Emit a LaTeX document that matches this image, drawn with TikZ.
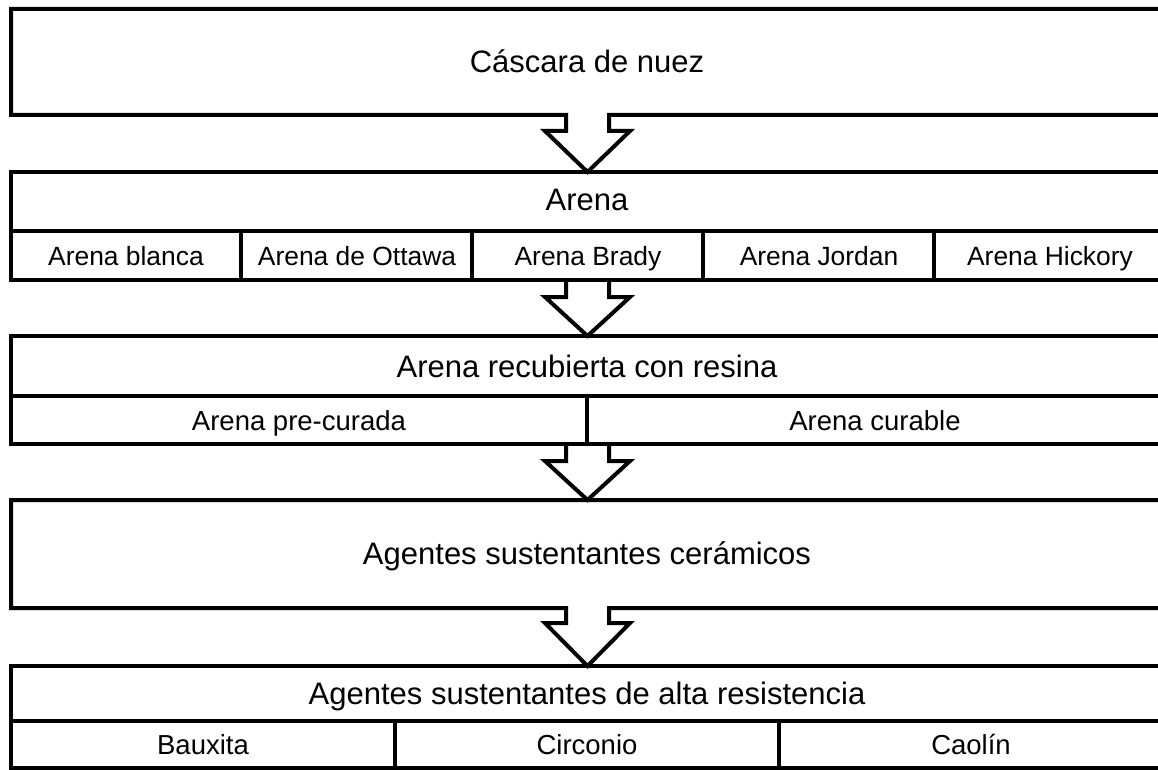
\documentclass[tikz,border=0pt]{standalone}
\usepackage{fontspec}
\setmainfont{Liberation Sans}
\begin{document}
\begin{tikzpicture}[x=1pt,y=-1pt,
  outline/.style={draw=black,line width=4pt,line join=miter},
  big/.style={font=\fontsize{31}{37}\selectfont,inner sep=0pt,anchor=base},
  small/.style={font=\fontsize{26.4}{31}\selectfont,inner sep=0pt,anchor=base},
  mid/.style={font=\fontsize{27.5}{33}\selectfont,inner sep=0pt,anchor=base}]
\useasboundingbox (0,0) rectangle (1158,770);
\clip (0,0) rectangle (1158,770);
% ---------- Box 1
\draw[outline] (1175,9) -- (11,9) -- (11,115) -- (566,115) -- (566,131) -- (545,131)
  -- (587.5,172) -- (630,131) -- (609,131) -- (609,115) -- (1175,115);
\node[big] (casc) at (587,73) {Cáscara de nuez};
% ---------- Box 2
\draw[outline] (1175,172) -- (11,172) -- (11,280) -- (1175,280);
\draw[outline] (11,231) -- (1175,231);
\foreach \x in {241,472,703,934} \draw[outline] (\x,231) -- (\x,280);
\draw[outline] (566,280) -- (566,297) -- (545,297) -- (587.5,336) -- (630,297) -- (609,297) -- (609,280);
\node[big] (arena) at (587,211) {Arena};
\node[small] (a1) at (126,265) {Arena blanca};
\node[small] (a2) at (357,265) {Arena de Ottawa};
\node[small] (a3) at (588,265) {Arena Brady};
\node[small] (a4) at (819,265) {Arena Jordan};
\node[small] (a5) at (1050,265) {Arena Hickory};
% ---------- Box 3
\draw[outline] (1175,336) -- (11,336) -- (11,444) -- (1175,444);
\draw[outline] (11,396) -- (1175,396);
\draw[outline] (587,396) -- (587,444);
\draw[outline] (566,444) -- (566,461) -- (545,461) -- (587.5,500) -- (630,461) -- (609,461) -- (609,444);
\node[big] (resina) at (587,377) {Arena recubierta con resina};
\node[mid] (r1) at (299,430) {Arena pre-curada};
\node[mid] (r2) at (875,430) {Arena curable};
% ---------- Box 4
\draw[outline] (1175,500) -- (11,500) -- (11,608) -- (566,608) -- (566,623) -- (545,623)
  -- (587.5,666) -- (630,623) -- (609,623) -- (609,608) -- (1175,608);
\node[big] (cer) at (587,564) {Agentes sustentantes cerámicos};
% ---------- Box 5
\draw[outline] (1175,666) -- (11,666) -- (11,768) -- (1175,768);
\draw[outline] (11,721) -- (1175,721);
\foreach \x in {395,779} \draw[outline] (\x,721) -- (\x,768);
\node[big] (alta) at (587,704.5) {Agentes sustentantes de alta resistencia};
\node[mid] (b1) at (203,754.5) {Bauxita};
\node[mid] (b2) at (587,754.5) {Circonio};
\node[mid] (b3) at (971,754.5) {Caolín};
\end{tikzpicture}
\end{document}
